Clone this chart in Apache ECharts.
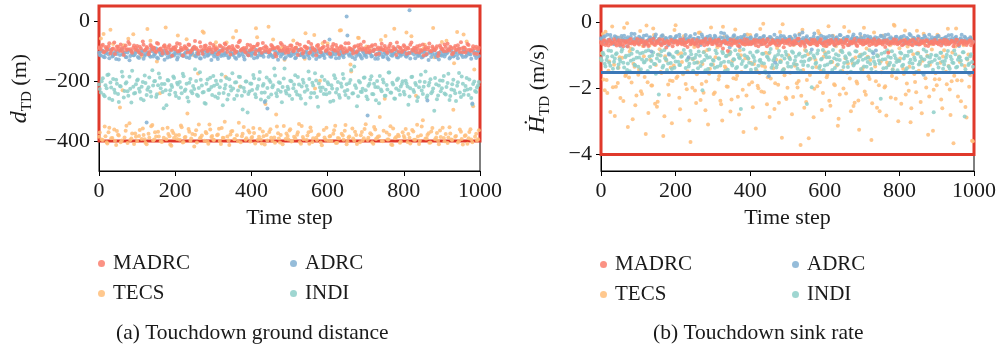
<!DOCTYPE html>
<html><head><meta charset="utf-8">
<script src="https://cdn.jsdelivr.net/npm/echarts@6/dist/echarts.min.js"></script>
<style>html,body{margin:0;padding:0;background:#fff}#c{width:999px;height:349px}</style>
</head><body><div id="c"></div>
<script>
// ---------------- data ----------------
// Each "A" array holds samples at time steps 0,5,10,...,995; each "B" array at 2,7,12,...,997.
const seriesNames = ['MADRC', 'ADRC', 'TECS', 'INDI'];
const sampleStep = 5;
const offsetA = 0, offsetB = 2;
const xTicks = [0, 200, 400, 600, 800, 1000];
const distTicks = [0, -200, -400];
const sinkTicks = [0, -2, -4];
const distBox = [[0, -400], [1000, 50]];
const sinkBox = [[0, -4], [1000, 0.5]];
const sinkLimit = [-1.5];

// (a) touchdown ground distance d_TD (m)
const madrcDistA = [
-88,-95,-79,-102,-91,-84,-108,-93,-72,-97,-86,-99,-90,-113,-82,-94,-77,-101,-89,-96,
-83,-105,-92,-68,-98,-87,-111,-80,-95,-90,-103,-76,-93,-99,-85,-91,-107,-81,-97,-88,
-94,-74,-100,-89,-115,-84,-92,-78,-104,-96,-86,-90,-109,-71,-98,-93,-82,-101,-88,-95,
-80,-97,-91,-106,-85,-99,-75,-93,-89,-112,-83,-96,-102,-87,-66,-94,-90,-105,-79,-98,
-92,-86,-110,-81,-97,-93,-73,-100,-88,-104,-95,-84,-91,-118,-87,-99,-78,-94,-106,-89,
-96,-82,-101,-90,-75,-98,-93,-108,-85,-91,-70,-103,-88,-95,-114,-80,-97,-92,-86,-100,
-83,-107,-94,-77,-99,-89,-111,-84,-96,-91,-102,-74,-93,-98,-87,-105,-81,-95,-90,-69,
-97,-92,-104,-85,-100,-79,-94,-109,-88,-96,-83,-101,-91,-76,-98,-93,-113,-86,-90,-103,
-81,-95,-89,-107,-72,-99,-92,-84,-105,-97,-78,-93,-110,-88,-100,-85,-96,-91,-117,-82,
-94,-101,-87,-76,-98,-90,-106,-83,-95,-92,-71,-104,-89,-97,-80,-99,-93,-108,-86,-94];
const madrcDistB = [
-91,-83,-104,-87,-96,-74,-99,-92,-110,-85,-93,-78,-101,-89,-97,-70,-94,-106,-82,-90,
-98,-86,-112,-79,-95,-91,-103,-84,-88,-100,-73,-96,-92,-108,-81,-99,-87,-94,-116,-90,
-85,-102,-77,-97,-93,-89,-105,-80,-98,-91,-67,-95,-100,-86,-109,-83,-92,-97,-75,-104,
-88,-94,-111,-82,-99,-90,-78,-103,-87,-96,-92,-107,-84,-71,-98,-93,-101,-89,-114,-81,
-95,-87,-100,-76,-93,-106,-90,-84,-97,-102,-80,-91,-109,-88,-94,-73,-99,-85,-96,-104,
-82,-92,-98,-89,-113,-79,-95,-101,-86,-90,-107,-77,-94,-99,-83,-91,-104,-88,-69,-97,
-93,-110,-85,-96,-80,-100,-92,-87,-105,-74,-98,-90,-94,-108,-84,-101,-89,-78,-96,-92,
-103,-86,-99,-81,-95,-112,-88,-93,-76,-97,-91,-106,-83,-100,-87,-94,-72,-102,-90,-98,
-85,-109,-92,-79,-96,-89,-104,-93,-82,-99,-115,-87,-95,-75,-101,-91,-97,-84,-107,-88,
-93,-78,-100,-94,-86,-111,-90,-97,-81,-103,-92,-88,-105,-77,-96,-99,-84,-91,-110,-89];
const adrcDistA = [
-106,-115,-99,-121,-104,-111,-96,-118,-109,-127,-102,-113,-94,-110,-120,-105,-131,-100,-114,-108,
-97,-123,-110,-103,-116,-338,-107,-119,-101,-112,-92,-125,-106,-114,-99,-109,-122,-104,-117,-111,
-103,-128,-108,-96,-115,-110,-121,-100,-113,-106,-93,-118,-107,-124,-102,-111,-98,-116,-109,-130,
-105,-112,-120,-101,-117,-95,-108,-114,-123,-104,-110,-99,-126,-107,-113,-102,-119,-97,-111,-106,
-116,-103,-109,-122,-100,-114,-108,-270,-104,-119,-111,-95,-117,-106,-129,-101,-112,-108,-121,-98,
-110,-115,-103,-124,-107,-96,-113,-109,-120,-102,-116,-91,-111,-105,-127,-100,-118,-107,-114,-104,
-109,-62,-119,-101,-112,-106,-123,-99,-115,-108,15,-110,-97,-121,-104,-117,-102,-113,-125,-107,
-112,-315,-105,-118,-100,-126,-109,-114,-94,-120,-106,-111,-128,-103,-116,-108,-98,-122,-110,-104,
-101,-117,-113,36,-107,-96,-124,-109,-115,-103,-119,-100,-112,-130,-105,-110,-98,-121,-108,-114,
-116,-102,-111,-106,-125,-99,-118,-104,-113,-93,-109,-120,-101,-115,-107,-112,-275,-105,-123,-100];
const adrcDistB = [
-113,-101,-119,-108,-95,-124,-106,-116,-103,-110,-128,-99,-112,-105,-121,-97,-117,-109,-114,-102,
-120,-107,-98,-126,-111,-104,-115,-93,-118,-109,-122,-100,-113,-106,-129,-103,-110,-119,-96,-115,
-108,-121,-102,-114,-117,-105,-99,-123,-110,-90,-116,-107,-112,-125,-101,-119,-106,-113,-97,-109,
-118,-104,-127,-100,-111,-115,-107,-94,-120,-108,-113,-122,-103,-117,-98,-110,-128,-105,-114,-101,
-109,-124,-96,-116,-106,-112,-119,-102,-292,-108,-115,-121,-99,-111,-107,-118,-104,-126,-100,-113,
-117,-103,-110,-122,-97,-114,-108,-120,-105,-112,-125,-101,-116,-95,-109,-119,-106,-113,-123,-102,
-108,-118,-111,-99,-124,-105,-114,-107,-121,-103,-48,-116,-110,-97,-127,-106,-112,-119,-101,-115,
-120,-104,-109,-117,-96,-113,-126,-102,-110,-118,-107,-123,-100,-114,-108,-92,-121,-105,-116,-111,
-103,-119,-107,-125,-101,-112,-98,-117,-109,-122,-104,-114,-265,-106,-120,-99,-113,-108,-128,-102,
-111,-118,-105,-95,-121,-109,-116,-103,-124,-107,-113,-100,-119,-106,-110,-126,-98,-115,-104,-117];
const tecsDistA = [
-386,-58,-397,-352,-404,-371,-29,-390,-362,-413,-379,-288,-398,-81,-366,-407,-341,-392,-44,-375,
-400,-383,-118,-358,-394,-411,-376,-66,-347,-395,-385,-369,-241,-403,-389,-22,-356,-384,-416,-373,
-95,-393,-380,-348,-405,-388,-61,-360,-399,-377,-418,-364,-175,-391,-382,-39,-370,-402,-345,-387,
-396,-84,-381,-359,-410,-389,-336,-72,-398,-378,-367,-394,-33,-401,-218,-384,-353,-396,-107,-372,
-390,-357,-408,-54,-386,-395,-368,-412,-380,-19,-361,-399,-388,-312,-374,-405,-89,-350,-393,-383,
-365,-402,-65,-391,-379,-343,-409,-387,-126,-397,-371,-355,-403,-47,-389,-381,-199,-414,-363,-396,
-75,-385,-400,-376,-349,-406,-392,-31,-382,-366,-411,-388,-145,-358,-398,-380,-56,-404,-370,-391,
-344,-397,-92,-378,-409,-362,-390,-384,-63,-401,-259,-372,-395,-351,-413,-26,-387,-379,-406,-102,
-383,-360,-403,-389,-51,-368,-396,-346,-410,-381,-331,-79,-392,-374,-405,-357,-121,-388,-399,-365,
-70,-390,-377,-407,-354,-395,-296,-386,-37,-400,-369,-412,-383,-68,-391,-361,-404,-162,-376,-394];
const tecsDistB = [
-372,-395,-43,-384,-408,-356,-391,-77,-399,-367,-382,-404,-231,-388,-349,-59,-397,-375,-410,-386,
-101,-363,-393,-380,-406,-27,-389,-351,-398,-371,-135,-385,-401,-359,-83,-394,-377,-412,-366,-390,
-381,-48,-396,-354,-403,-387,-308,-369,-392,-113,-379,-405,-345,-388,-35,-399,-374,-409,-362,-383,
-397,-71,-378,-400,-357,-390,-186,-385,-413,-368,-55,-393,-381,-339,-404,-376,-97,-391,-365,-402,
-387,-373,-24,-396,-359,-408,-384,-277,-398,-370,-389,-62,-406,-352,-392,-380,-411,-129,-375,-395,
-361,-400,-386,-88,-371,-403,-350,-394,-41,-382,-409,-367,-391,-225,-397,-378,-405,-74,-388,-356,
-399,-383,-110,-364,-407,-390,-32,-376,-396,-347,-401,-385,-168,-392,-369,-410,-57,-381,-398,-360,
-85,-389,-374,-404,-353,-393,-386,-320,-400,-366,-50,-395,-379,-412,-358,-391,-104,-384,-402,-371,
-390,-38,-377,-408,-363,-396,-249,-385,-399,-352,-92,-392,-380,-406,-368,-23,-394,-373,-411,-387,
-356,-401,-66,-388,-375,-397,-141,-383,-405,-362,-393,-45,-381,-409,-370,-395,-284,-386,-398,-364];
const indiDistA = [
-212,-238,-191,-251,-224,-178,-205,-263,-229,-196,-243,-217,-169,-255,-208,-234,-186,-272,-219,-240,
-198,-226,-259,-203,-182,-247,-221,-236,-164,-201,-253,-214,-189,-210,-291,-231,-197,-245,-213,-185,
-239,-206,-257,-222,-176,-233,-209,-268,-193,-241,-227,-200,-250,-171,-215,-237,-276,-195,-228,-220,
-183,-252,-211,-242,-199,-281,-225,-190,-246,-218,-174,-260,-204,-232,-187,-249,-223,-202,-305,-235,
-209,-180,-244,-226,-194,-262,-216,-238,-188,-254,-203,-221,-158,-241,-230,-207,-271,-192,-233,-219,
-248,-201,-224,-181,-245,-212,-258,-196,-236,-217,-168,-255,-206,-240,-198,-286,-222,-185,-243,-229,
-204,-239,-214,-266,-191,-227,-247,-208,-177,-234,-211,-256,-197,-242,-152,-223,-251,-205,-237,-189,
-231,-261,-209,-184,-244,-220,-200,-274,-228,-195,-249,-213,-172,-238,-206,-258,-225,-192,-246,-210,
-236,-199,-218,-252,-187,-230,-207,-267,-221,-179,-243,-203,-256,-215,-194,-235,-299,-211,-248,-198,
-224,-183,-245,-207,-263,-228,-196,-241,-216,-173,-253,-209,-232,-190,-247,-226,-278,-202,-237,-214];
const indiDistB = [
-227,-201,-246,-214,-180,-258,-222,-193,-239,-209,-270,-218,-185,-233,-204,-249,-226,-166,-242,-211,
-195,-236,-219,-264,-207,-229,-188,-252,-215,-200,-244,-175,-224,-237,-210,-281,-198,-231,-220,-190,
-250,-212,-203,-241,-184,-228,-255,-206,-234,-217,-161,-246,-223,-196,-238,-273,-209,-230,-189,-247,
-216,-199,-257,-221,-178,-240,-213,-262,-194,-232,-225,-205,-248,-186,-219,-295,-235,-202,-243,-208,
-230,-191,-254,-217,-170,-239,-210,-266,-223,-197,-245,-214,-182,-251,-204,-236,-220,-158,-242,-227,
-199,-260,-212,-235,-187,-248,-218,-206,-276,-229,-193,-240,-215,-174,-253,-208,-233,-222,-197,-244,
-211,-269,-225,-181,-238,-203,-256,-219,-192,-247,-230,-207,-163,-241,-214,-284,-200,-236,-226,-188,
-252,-216,-195,-243,-209,-264,-221,-183,-234,-205,-249,-228,-172,-239,-212,-259,-197,-231,-218,-201,
-245,-208,-279,-224,-186,-237,-213,-254,-202,-232,-219,-168,-248,-206,-241,-225,-190,-261,-215,-234,
-199,-242,-220,-176,-250,-211,-231,-267,-204,-238,-185,-246,-217,-228,-195,-257,-210,-233,-222,-203];

// (b) touchdown sink rate (m/s)
const madrcSinkA = [
-0.60,-0.66,-0.54,-0.63,-0.70,-0.57,-0.61,-0.51,-0.65,-0.59,-0.68,-0.55,-0.72,-0.62,-0.56,-0.64,-0.50,-0.61,-0.67,-0.58,
-0.63,-0.53,-0.60,-0.71,-0.57,-0.66,-0.55,-0.62,-0.49,-0.68,-0.60,-0.56,-0.65,-0.52,-0.63,-0.76,-0.58,-0.64,-0.54,-0.61,
-0.56,-0.67,-0.59,-0.62,-0.51,-0.69,-0.60,-0.55,-0.66,-0.53,-0.64,-0.61,-0.73,-0.57,-0.63,-0.58,-0.50,-0.67,-0.60,-0.55,
-0.65,-0.56,-0.62,-0.52,-0.70,-0.59,-0.57,-0.64,-0.86,-0.60,-0.68,-0.54,-0.63,-0.59,-0.71,-0.56,-0.65,-0.51,-0.61,-0.66,
-0.58,-0.63,-0.53,-0.69,-0.60,-0.55,-0.66,-0.52,-0.62,-0.72,-0.58,-0.64,-0.54,-0.61,-0.68,-0.55,-0.63,-0.59,-0.75,-0.57,
-0.64,-0.52,-0.60,-0.67,-0.56,-0.62,-0.49,-0.70,-0.58,-0.65,-0.54,-0.61,-0.66,-0.53,-0.63,-0.57,-0.69,-0.60,-0.51,-0.64,
-0.59,-0.71,-0.55,-0.62,-0.58,-0.67,-0.52,-0.64,-0.60,-0.56,-0.74,-0.63,-0.53,-0.66,-0.58,-0.61,-0.50,-0.68,-0.57,-0.62,
-0.55,-0.65,-0.60,-0.52,-0.69,-0.58,-0.63,-0.56,-0.66,-0.54,-0.61,-0.67,-0.55,-0.62,-0.92,-0.59,-0.64,-0.51,-0.60,-0.66,
-0.62,-0.56,-0.67,-0.53,-0.60,-0.65,-0.55,-0.69,-0.58,-0.63,-0.50,-0.66,-0.60,-0.56,-0.70,-0.55,-0.63,-0.58,-0.64,-0.53,
-0.61,-0.66,-0.56,-0.62,-0.52,-0.67,-0.58,-0.64,-0.55,-0.72,-0.60,-0.53,-0.65,-0.58,-0.62,-0.56,-0.68,-0.60,-0.54,-0.63];
const madrcSinkB = [
-0.63,-0.55,-0.68,-0.59,-0.52,-0.65,-0.61,-0.57,-0.70,-0.54,-0.62,-0.66,-0.56,-0.60,-0.73,-0.53,-0.64,-0.58,-0.62,-0.50,
-0.67,-0.59,-0.55,-0.64,-0.61,-0.71,-0.53,-0.60,-0.66,-0.57,-0.63,-0.51,-0.69,-0.58,-0.62,-0.56,-0.65,-0.54,-0.72,-0.60,
-0.57,-0.63,-0.52,-0.66,-0.59,-0.61,-0.74,-0.55,-0.62,-0.58,-0.67,-0.53,-0.64,-0.60,-0.56,-0.69,-0.59,-0.62,-0.51,-0.65,
-0.60,-0.54,-0.68,-0.57,-0.63,-0.79,-0.56,-0.61,-0.66,-0.52,-0.64,-0.59,-0.57,-0.70,-0.55,-0.62,-0.60,-0.67,-0.53,-0.63,
-0.66,-0.58,-0.61,-0.54,-0.72,-0.60,-0.56,-0.65,-0.59,-0.51,-0.67,-0.62,-0.57,-0.64,-0.55,-0.69,-0.60,-0.53,-0.63,-0.58,
-0.54,-0.68,-0.61,-0.57,-0.64,-0.50,-0.66,-0.59,-0.62,-0.73,-0.56,-0.60,-0.65,-0.58,-0.52,-0.67,-0.61,-0.55,-0.63,-0.70,
-0.62,-0.57,-0.65,-0.53,-0.60,-0.68,-0.58,-0.63,-0.55,-0.66,-0.60,-0.52,-0.69,-0.59,-0.64,-0.56,-0.62,-0.71,-0.54,-0.61,
-0.67,-0.55,-0.62,-0.60,-0.56,-0.65,-0.51,-0.68,-0.59,-0.63,-0.57,-0.61,-0.74,-0.54,-0.66,-0.60,-0.58,-0.64,-0.53,-0.62,
-0.58,-0.69,-0.55,-0.63,-0.61,-0.57,-0.66,-0.52,-0.64,-0.60,-0.67,-0.56,-0.62,-0.59,-0.54,-0.71,-0.61,-0.57,-0.65,-0.60,
-0.63,-0.56,-0.70,-0.58,-0.62,-0.54,-0.66,-0.60,-0.57,-0.64,-0.52,-0.68,-0.61,-0.55,-0.65,-0.59,-0.62,-0.56,-0.69,-0.58];
const adrcSinkA = [
-0.48,-0.56,-0.42,-0.61,-0.52,-0.38,-0.57,-0.66,-0.45,-0.53,-0.60,-0.41,-0.55,-0.49,-0.72,-0.50,-0.44,-0.58,-0.35,-0.54,
-0.63,-0.47,-0.51,-0.40,-0.59,-0.55,-0.46,-0.88,-0.52,-0.43,-0.57,-0.50,-0.62,-0.39,-0.54,-0.48,-0.69,-0.45,-0.56,-0.51,
-0.44,-0.58,-0.37,-0.53,-0.60,-0.47,-0.52,-1.05,-0.41,-0.55,-0.49,-0.64,-0.46,-0.57,-0.36,-0.51,-0.59,-0.43,-0.54,-0.48,
-0.56,-0.40,-0.61,-0.50,-0.45,-0.58,-0.33,-0.53,-0.47,-0.76,-0.52,-0.42,-0.57,-0.49,-0.60,-0.44,-0.55,-0.38,-0.51,-0.63,
-0.46,-0.54,-0.59,-0.41,-0.52,-0.48,-0.65,-0.43,-0.56,-0.50,-1.62,-0.45,-0.58,-0.37,-0.53,-0.61,-0.47,-0.55,-0.42,-0.50,
-0.57,-0.44,-0.52,-0.62,-0.39,-0.55,-0.49,-0.58,-0.30,-0.53,-0.46,-0.60,-0.51,-0.82,-0.43,-0.56,-0.48,-0.54,-0.40,-0.59,
-0.50,-0.45,-0.63,-0.52,-0.41,-0.57,-0.47,-0.54,-0.38,-0.60,-0.49,-0.55,-0.44,-0.68,-0.51,-0.43,-0.58,-0.46,-0.53,-0.35,
-0.55,-0.48,-0.61,-0.42,-0.56,-0.50,-0.93,-0.45,-0.57,-0.52,-0.40,-0.59,-0.47,-0.54,-0.36,-0.62,-0.49,-0.53,-0.44,-0.58,
-0.51,-0.43,-0.56,-0.64,-0.46,-0.53,-0.39,-0.58,-0.48,-0.55,-0.42,-0.60,-0.50,-1.58,-0.45,-0.57,-0.37,-0.52,-0.61,-0.47,
-0.54,-0.41,-0.59,-0.49,-0.56,-0.44,-0.62,-0.51,-0.38,-0.57,-0.46,-0.53,-0.71,-0.48,-0.55,-0.43,-0.60,-0.50,-0.45,-0.58];
const adrcSinkB = [
-0.51,-0.44,-0.59,-0.37,-0.55,-0.48,-0.63,-0.42,-0.53,-0.46,-0.71,-0.50,-0.40,-0.57,-0.45,-0.61,-0.34,-0.52,-0.47,-0.58,
-0.43,-0.55,-0.49,-0.66,-0.39,-0.53,-0.45,-0.60,-0.48,-0.36,-0.56,-0.51,-0.42,-0.64,-0.47,-0.54,-0.97,-0.44,-0.58,-0.50,
-0.41,-0.57,-0.46,-0.53,-0.62,-0.38,-0.51,-0.45,-0.59,-0.49,-0.35,-0.55,-0.47,-0.68,-0.43,-0.52,-0.48,-0.60,-0.40,-0.56,
-0.50,-0.44,-0.58,-0.53,-0.31,-0.47,-0.61,-0.42,-0.54,-0.49,-0.57,-0.39,-0.52,-0.46,-0.74,-0.51,-0.43,-0.59,-0.48,-0.55,
-0.45,-0.62,-0.50,-0.38,-0.56,-0.47,-0.53,-0.41,-0.60,-0.49,-0.44,-0.57,-0.52,-1.21,-0.46,-0.54,-0.40,-0.58,-0.48,-0.51,
-0.59,-0.43,-0.50,-0.65,-0.45,-0.55,-0.37,-0.52,-0.47,-0.61,-0.42,-0.56,-0.49,-0.53,-0.33,-0.58,-0.46,-0.51,-0.64,-0.44,
-0.48,-0.57,-0.41,-0.54,-0.50,-0.69,-0.45,-0.52,-0.39,-0.59,-0.47,-0.55,-0.43,-0.62,-0.50,-0.36,-0.57,-0.48,-0.53,-0.46,
-0.55,-0.40,-0.60,-0.49,-0.44,-0.56,-0.51,-0.85,-0.47,-0.58,-0.42,-0.53,-0.38,-0.61,-0.49,-0.45,-0.57,-0.52,-0.43,-0.63,
-0.47,-0.54,-0.41,-0.59,-0.50,-0.35,-0.56,-0.46,-0.52,-0.66,-0.44,-0.58,-0.49,-0.40,-0.55,-0.51,-0.62,-0.45,-0.53,-0.48,
-0.42,-0.57,-0.50,-0.64,-0.46,-0.53,-0.39,-0.59,-0.48,-0.55,-0.43,-0.61,-0.51,-0.37,-0.56,-0.47,-0.54,-1.55,-0.49,-0.58];
const tecsSinkA = [
-1.12,-0.35,-2.05,-1.74,-1.46,-2.71,-0.12,-1.28,-1.95,-1.83,-1.05,-0.48,-2.38,-1.62,-0.02,-1.67,-0.79,-2.93,-1.34,-2.21,
-1.58,-0.26,-2.17,-1.02,-3.38,-1.81,-0.70,-1.91,-0.18,-2.46,-2.55,-0.97,-1.50,-0.41,-2.84,-1.15,-1.88,-1.76,-3.05,-1.30,
-0.08,-1.64,-2.28,-0.93,-1.57,-0.55,-2.02,-1.09,-3.62,-1.98,-0.74,-2.44,-1.21,-0.30,-1.86,-2.13,-2.66,-0.83,-1.55,-0.15,
-1.27,-2.12,-0.62,-1.73,-2.37,-2.97,-0.44,-1.39,-1.95,-0.89,-2.33,-1.69,-0.21,-1.61,-2.79,-0.99,-2.04,-0.67,-2.21,-1.10,
-0.38,-1.81,-1.26,-3.21,-1.92,-1.53,-2.09,-0.04,-1.35,-2.48,-0.94,-1.70,-0.58,-2.62,-1.13,-1.89,-0.29,-3.49,-1.42,-2.27,
-1.98,-1.06,-0.47,-2.26,-1.31,-1.84,-1.77,-3.71,-0.22,-2.58,-2.41,-0.96,-1.59,-0.64,-2.87,-1.14,-1.93,-0.33,-1.47,-2.14,
-0.90,-1.66,-0.11,-2.52,-1.20,-1.87,-0.72,-3.13,-2.18,-0.53,-2.00,-1.08,-1.52,-0.27,-2.69,-1.24,-2.43,-1.79,-2.36,-0.98,
-1.45,-0.16,-2.19,-1.04,-1.71,-3.56,-0.60,-1.33,-2.58,-1.90,-1.18,-0.40,-1.97,-2.82,-1.29,-0.69,-1.62,-0.07,-2.31,-1.16,
-0.78,-2.46,-1.40,-0.24,-1.85,-2.07,-3.02,-0.50,-1.56,-2.11,-0.92,-1.25,-2.75,-0.34,-1.69,-1.01,-2.24,-0.66,-3.28,-1.72,
-1.90,-0.43,-1.22,-2.60,-0.84,-1.49,-0.19,-2.03,-1.78,-3.66,-0.73,-1.75,-1.03,-2.39,-0.56,-1.32,-2.88,-0.97,-1.60,-3.58];
const tecsSinkB = [
-0.94,-1.73,-0.28,-2.14,-1.18,-0.63,-1.96,-2.83,-0.45,-1.37,-2.29,-1.07,-0.16,-1.58,-3.17,-0.87,-1.82,-1.25,-2.51,-0.52,
-1.43,-2.08,-0.71,-1.65,-0.09,-2.74,-1.13,-1.91,-0.38,-1.29,-2.40,-0.81,-1.53,-3.44,-1.02,-0.58,-2.20,-1.36,-1.77,-0.23,
-1.68,-0.95,-2.63,-1.20,-0.42,-1.86,-1.48,-2.97,-0.66,-1.11,-2.06,-1.57,-0.31,-2.35,-1.26,-0.89,-1.79,-3.09,-1.40,-0.53,
-2.17,-1.05,-0.75,-1.62,-2.48,-0.13,-1.33,-1.94,-0.98,-2.70,-1.17,-0.47,-1.71,-2.25,-0.85,-1.50,-3.32,-1.08,-0.36,-1.88,
-1.22,-2.57,-0.60,-1.45,-1.99,-0.20,-1.31,-2.11,-0.92,-1.66,-2.86,-0.49,-1.39,-1.84,-0.77,-2.43,-1.15,-0.05,-1.60,-2.32,
-0.99,-1.52,-2.78,-0.68,-1.27,-1.97,-0.34,-2.22,-1.44,-0.83,-1.74,-3.51,-1.10,-0.57,-2.01,-1.35,-0.26,-1.81,-2.65,-1.04,
-0.72,-1.59,-2.37,-1.19,-0.40,-1.90,-1.30,-2.92,-0.86,-1.47,-0.14,-2.15,-1.24,-1.70,-0.61,-2.53,-1.06,-1.85,-3.25,-0.44,
-1.38,-2.09,-0.79,-1.63,-1.14,-2.45,-0.30,-1.78,-1.00,-2.69,-1.51,-0.55,-1.93,-1.21,-0.88,-2.27,-1.42,-0.10,-1.69,-2.99,
-1.09,-0.50,-1.56,-2.18,-0.73,-1.34,-2.60,-0.96,-1.80,-0.25,-1.46,-2.41,-1.16,-0.64,-1.97,-3.40,-1.28,-0.82,-2.04,-1.54,
-0.37,-1.72,-2.33,-1.03,-0.59,-1.87,-1.32,-2.80,-0.91,-1.61,-0.18,-2.24,-1.20,-1.76,-0.69,-2.56,-1.12,-1.95,-0.46,-3.60];
const indiSinkA = [
-1.08,-0.92,-1.25,-1.14,-0.85,-1.31,-1.02,-1.19,-0.96,-1.38,-1.11,-0.88,-1.22,-1.05,-1.44,-0.99,-1.16,-0.81,-1.28,-1.07,
-1.34,-0.94,-1.12,-1.21,-0.87,-1.47,-1.03,-1.17,-0.91,-1.26,-1.09,-2.18,-1.00,-1.36,-0.83,-1.13,-1.24,-0.97,-1.41,-1.06,
-1.18,-0.89,-1.29,-1.04,-1.52,-0.95,-1.15,-1.33,-0.86,-1.10,-1.23,-0.98,-1.39,-1.01,-1.20,-0.90,-1.45,-1.07,-0.82,-1.27,
-1.14,-1.37,-0.93,-1.08,-1.30,-0.88,-1.19,-1.02,-1.43,-0.96,-1.24,-1.11,-0.84,-1.35,-1.05,-2.62,-1.17,-0.99,-1.32,-1.09,
-0.91,-1.26,-1.06,-1.40,-0.87,-1.16,-1.22,-0.95,-1.48,-1.03,-1.13,-0.80,-1.29,-1.09,-1.36,-0.97,-1.20,-1.01,-1.42,-0.89,
-1.23,-1.07,-1.34,-0.92,-1.15,-1.28,-0.98,-1.46,-1.04,-1.18,-0.86,-1.31,-1.10,-1.96,-1.00,-1.25,-0.94,-1.38,-1.12,-0.83,
-1.30,-1.05,-0.90,-1.21,-1.44,-1.08,-0.96,-1.27,-1.14,-0.85,-1.35,-1.02,-1.19,-0.93,-1.49,-1.11,-1.24,-0.88,-1.16,-1.03,
-0.97,-1.33,-1.09,-1.20,-0.84,-1.41,-1.06,-1.26,-0.99,-1.15,-2.31,-1.12,-0.91,-1.37,-1.04,-1.22,-0.87,-1.30,-1.08,-1.45,
-1.17,-0.94,-1.28,-1.01,-1.39,-0.89,-1.13,-1.24,-1.06,-1.50,-0.95,-1.19,-1.10,-0.82,-1.32,-1.03,-1.21,-0.98,-1.43,-1.14,
-1.00,-1.36,-0.92,-1.18,-1.27,-1.07,-0.86,-1.40,-1.11,-1.23,-0.96,-1.34,-1.05,-1.16,-0.90,-2.85,-1.09,-1.29,-1.02,-1.20];
const indiSinkB = [
-1.15,-0.97,-1.33,-1.04,-1.22,-0.86,-1.40,-1.09,-0.93,-1.27,-1.18,-0.81,-1.36,-1.01,-1.24,-1.48,-0.95,-1.12,-1.30,-0.89,
-1.06,-1.42,-0.92,-1.20,-1.13,-0.84,-1.35,-1.00,-1.26,-1.55,-0.98,-1.17,-0.87,-1.31,-1.08,-1.44,-0.94,-1.23,-1.03,-1.37,
-0.90,-1.19,-1.29,-1.02,-0.83,-1.38,-1.11,-1.25,-0.96,-1.46,-1.07,-1.21,-0.88,-1.32,-2.05,-1.14,-0.99,-1.41,-1.05,-1.28,
-1.16,-0.85,-1.34,-1.10,-1.23,-0.93,-1.47,-1.01,-1.19,-0.90,-1.30,-1.12,-1.39,-0.97,-1.08,-1.26,-0.82,-1.35,-1.04,-1.22,
-1.43,-1.00,-1.17,-0.89,-1.31,-1.13,-0.95,-1.24,-1.52,-1.06,-0.91,-1.37,-1.15,-1.02,-1.28,-0.86,-1.20,-1.45,-1.09,-0.98,
-1.33,-1.11,-0.88,-1.25,-1.04,-1.40,-0.94,-1.18,-1.29,-1.01,-2.47,-1.14,-0.92,-1.36,-1.07,-1.22,-0.85,-1.32,-1.10,-1.44,
-0.96,-1.27,-1.05,-1.19,-0.83,-1.38,-1.12,-1.00,-1.48,-0.90,-1.23,-1.08,-1.35,-0.97,-1.16,-1.30,-0.87,-1.21,-1.03,-1.41,
-1.13,-0.93,-1.34,-1.06,-1.26,-0.89,-1.18,-1.50,-1.02,-1.24,-0.95,-1.39,-1.11,-0.84,-1.29,-1.07,-1.43,-0.99,-1.20,-1.15,
-0.91,-1.32,-1.09,-1.46,-1.01,-1.22,-0.86,-1.37,-1.14,-0.94,-1.27,-1.04,-1.53,-1.12,-0.88,-1.31,-1.06,-1.19,-2.72,-1.00,
-1.25,-1.08,-0.92,-1.40,-1.17,-0.98,-1.33,-1.03,-1.21,-0.85,-1.36,-1.13,-1.05,-1.28,-0.90,-1.42,-1.10,-1.24,-0.96,-1.34];

// ---------------- chart ----------------
const F = "'Liberation Serif','DejaVu Serif',serif";
const TXT = '#1a1a1a';
const colors = {MADRC: '#fa7f6f', ADRC: '#82b0d2', TECS: '#ffbe7a', INDI: '#8ecfc9'};
const toPairs = (arr, off) => arr.map((v, i) => [i * sampleStep + off, v]);
const minus = v => String(v).replace('-', '\u2212');

function scatter(name, arrA, arrB, g) {
  return {
    type: 'scatter', name: name, xAxisIndex: g, yAxisIndex: g,
    data: toPairs(arrA, offsetA).concat(toPairs(arrB, offsetB)), symbolSize: 4, z: 2,
    itemStyle: {color: colors[name], opacity: 0.85},
    emphasis: {disabled: true}, silent: true
  };
}
function xAx(g) {
  return {
    gridIndex: g, type: 'value', min: 0, max: 1000, interval: 200,
    axisLine: {show: true, onZero: false, lineStyle: {color: '#000', width: 1}},
    axisTick: {show: true, length: 5, customValues: xTicks, lineStyle: {color: '#000'}},
    axisLabel: {customValues: xTicks, fontSize: 22, color: TXT, fontFamily: F, margin: 9, formatter: v => String(v)},
    splitLine: {show: false},
    name: 'Time step', nameLocation: 'middle', nameGap: 36,
    nameTextStyle: {fontSize: 22, color: TXT, fontFamily: F}
  };
}
function yAx(g, min, max, interval, ticks, name, rich, gap) {
  return {
    gridIndex: g, type: 'value', min: min, max: max, interval: interval,
    axisLine: {show: true, onZero: false, lineStyle: {color: '#000', width: 1}},
    axisTick: {show: true, length: 5, customValues: ticks, lineStyle: {color: '#000'}},
    axisLabel: {customValues: ticks, fontSize: 22, color: TXT, fontFamily: F, margin: 9, formatter: minus},
    splitLine: {show: false},
    name: name, nameLocation: 'middle', nameRotate: 90, nameGap: gap,
    nameTextStyle: {color: TXT, fontFamily: F, rich: rich}
  };
}
const richBase = {
  i: {fontSize: 24, fontStyle: 'italic', fontFamily: F, color: TXT, lineHeight: 30},
  s: {fontSize: 15, fontFamily: F, color: TXT, lineHeight: 16, verticalAlign: 'bottom'},
  n: {fontSize: 22, fontFamily: F, color: TXT, lineHeight: 30}
};

function legendItem(name, left, top) {
  return {
    data: [name], left: left, top: top, orient: 'horizontal', selectedMode: false,
    icon: 'circle', itemWidth: 7, itemHeight: 7,
    textStyle: {fontSize: 21, color: TXT, fontFamily: F, padding: [0, 0, 0, 3]}
  };
}

const option = {
  animation: false,
  backgroundColor: '#fff',
  grid: [
    {left: 99, top: 6, width: 381, height: 165, show: true, borderColor: '#000', borderWidth: 1, backgroundColor: 'transparent'},
    {left: 601, top: 6, width: 380, height: 165, show: true, borderColor: '#000', borderWidth: 1, backgroundColor: 'transparent'}
  ],
  xAxis: [xAx(0), xAx(1)],
  yAxis: [
    yAx(0, -500, 50, 50, distTicks, '{i|d}{s|TD}{n| (m)}', richBase, 64),
    yAx(1, -4.5, 0.5, 0.5, sinkTicks, '{i|\u1E22}{s|TD}{n| (m/s)}', richBase, 48)
  ],
  legend: [
    legendItem('MADRC', 93, 248), legendItem('ADRC', 285, 248),
    legendItem('TECS', 93, 278), legendItem('INDI', 285, 278),
    legendItem('MADRC', 595, 249), legendItem('ADRC', 787, 249),
    legendItem('TECS', 595, 279), legendItem('INDI', 787, 279)
  ],
  title: [
    {text: '(a) Touchdown ground distance', left: 111, top: 317, textStyle: {fontSize: 21.5, fontWeight: 'normal', color: TXT, fontFamily: F}},
    {text: '(b) Touchdown sink rate', left: 648, top: 317, textStyle: {fontSize: 21.5, fontWeight: 'normal', color: TXT, fontFamily: F}}
  ],
  series: [
    scatter('TECS', tecsDistA, tecsDistB, 0),
    scatter('INDI', indiDistA, indiDistB, 0),
    scatter('ADRC', adrcDistA, adrcDistB, 0),
    scatter('MADRC', madrcDistA, madrcDistB, 0),
    {
      type: 'scatter', name: 'box-a', xAxisIndex: 0, yAxisIndex: 0, data: [], z: 10, silent: true,
      markArea: {silent: true, itemStyle: {color: 'rgba(0,0,0,0)', borderColor: '#e0392b', borderWidth: 3},
        data: [[{coord: distBox[0]}, {coord: distBox[1]}]]}
    },
    scatter('TECS', tecsSinkA, tecsSinkB, 1),
    scatter('INDI', indiSinkA, indiSinkB, 1),
    scatter('ADRC', adrcSinkA, adrcSinkB, 1),
    scatter('MADRC', madrcSinkA, madrcSinkB, 1),
    {
      type: 'scatter', name: 'box-b', xAxisIndex: 1, yAxisIndex: 1, data: [], z: 10, silent: true,
      markLine: {silent: true, symbol: ['none', 'none'], label: {show: false},
        lineStyle: {color: '#3a77b7', width: 3, type: 'solid'},
        data: [{yAxis: sinkLimit[0]}]},
      markArea: {silent: true, itemStyle: {color: 'rgba(0,0,0,0)', borderColor: '#e0392b', borderWidth: 3},
        data: [[{coord: sinkBox[0]}, {coord: sinkBox[1]}]]}
    }
  ]
};
const chart = echarts.init(document.getElementById('c'), null, {renderer: 'canvas'});
chart.setOption(option);
</script></body></html>
